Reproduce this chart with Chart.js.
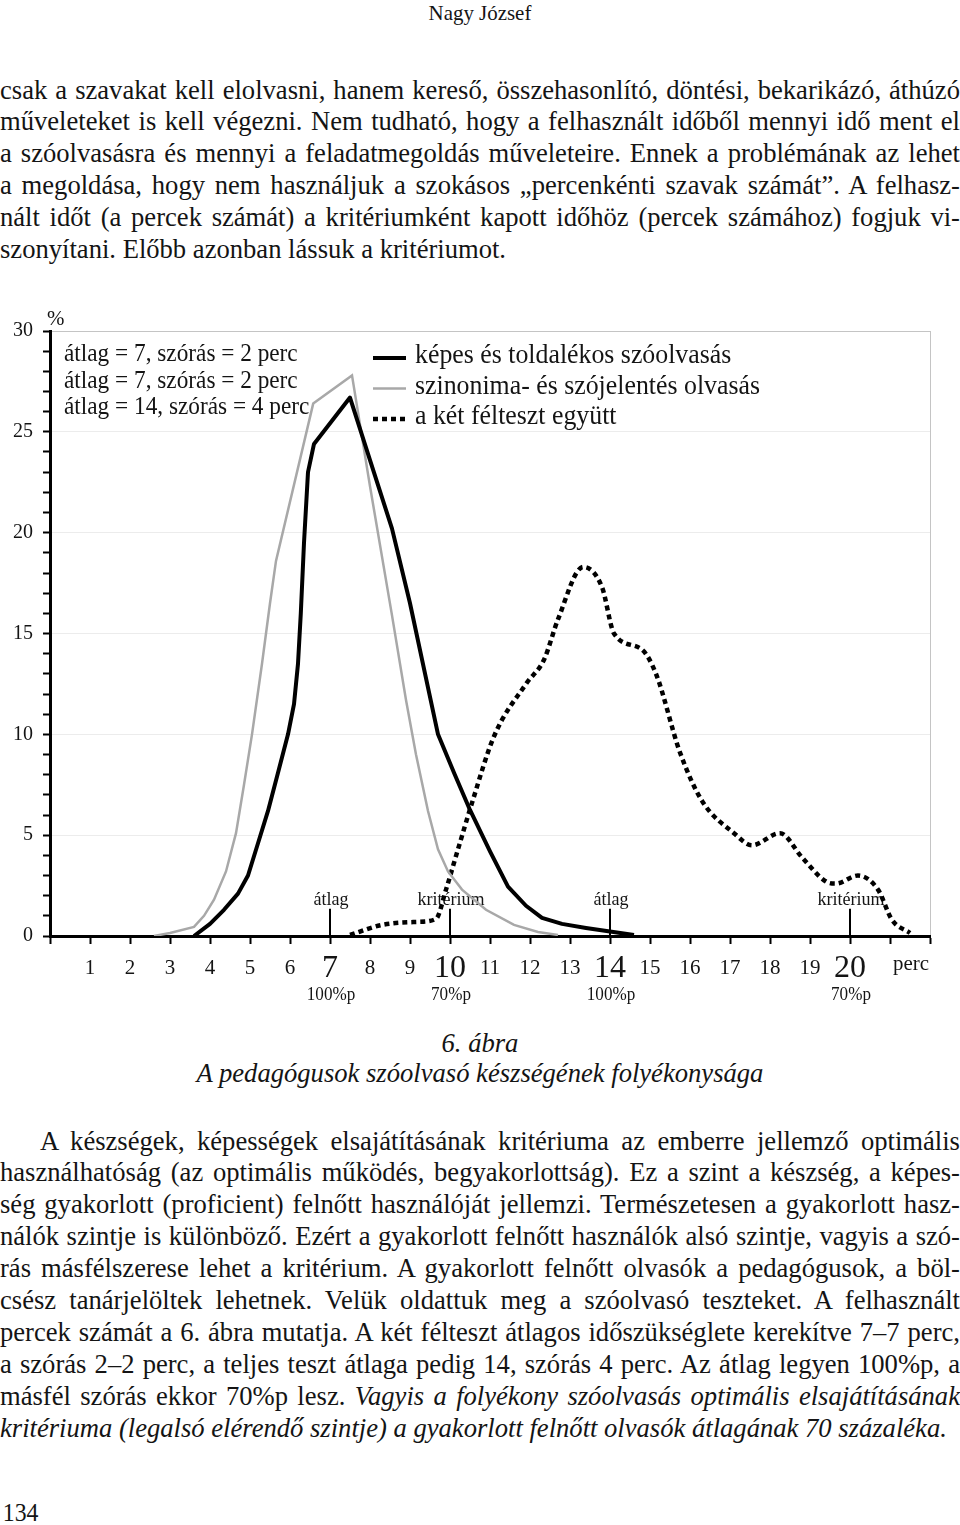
<!DOCTYPE html>
<html>
<head>
<meta charset="utf-8">
<script src="https://cdn.jsdelivr.net/npm/chart.js@4.4.1/dist/chart.umd.min.js"></script>
<style>
html, body { margin: 0; padding: 0; background: #fff; }
body { width: 960px; height: 1525px; position: relative; overflow: hidden;
       font-family: "Liberation Serif", "Times New Roman", serif; color: #141414; }
.blk { position: absolute; left: 0; width: 1010.5px; transform: scaleX(0.95); transform-origin: 0 0;
       font-size: 28px; line-height: 31.9px; }
.j { text-align: justify; text-align-last: justify; height: 31.9px; }
.l { text-align: left; height: 31.9px; }
#chartBox { position: absolute; left: 0; top: 300px; width: 960px; height: 720px; }
</style>
</head>
<body>

<div class="blk" style="top:0; font-size:22px; line-height:26px; text-align:center;">Nagy József</div>

<div class="blk" style="top:73.6px;">
  <div class="j">csak a szavakat kell elolvasni, hanem kereső, összehasonlító, döntési, bekarikázó, áthúzó</div>
  <div class="j">műveleteket is kell végezni. Nem tudható, hogy a felhasznált időből mennyi idő ment el</div>
  <div class="j">a szóolvasásra és mennyi a feladatmegoldás műveleteire. Ennek a problémának az lehet</div>
  <div class="j">a megoldása, hogy nem használjuk a szokásos „percenkénti szavak számát”. A felhasz-</div>
  <div class="j">nált időt (a percek számát) a kritériumként kapott időhöz (percek számához) fogjuk vi-</div>
  <div class="l">szonyítani. Előbb azonban lássuk a kritériumot.</div>
</div>

<div id="chartBox"><canvas id="chart"></canvas></div>

<div class="blk" style="top:1027.5px; line-height:30px; font-style:italic; text-align:center;">
  <div>6. ábra</div>
  <div>A pedagógusok szóolvasó készségének folyékonysága</div>
</div>

<div class="blk" style="top:1124.6px;">
  <div class="j" style="text-indent:42px;">A készségek, képességek elsajátításának kritériuma az emberre jellemző optimális</div>
  <div class="j">használhatóság (az optimális működés, begyakorlottság). Ez a szint a készség, a képes-</div>
  <div class="j">ség gyakorlott (proficient) felnőtt használóját jellemzi. Természetesen a gyakorlott hasz-</div>
  <div class="j">nálók szintje is különböző. Ezért a gyakorlott felnőtt használók alsó szintje, vagyis a szó-</div>
  <div class="j">rás másfélszerese lehet a kritérium. A gyakorlott felnőtt olvasók a pedagógusok, a böl-</div>
  <div class="j">csész tanárjelöltek lehetnek. Velük oldattuk meg a szóolvasó teszteket. A felhasznált</div>
  <div class="j">percek számát a 6. ábra mutatja. A két félteszt átlagos időszükséglete kerekítve 7–7 perc,</div>
  <div class="j">a szórás 2–2 perc, a teljes teszt átlaga pedig 14, szórás 4 perc. Az átlag legyen 100%p, a</div>
  <div class="j">másfél szórás ekkor 70%p lesz. <i>Vagyis a folyékony szóolvasás optimális elsajátításának</i></div>
  <div class="l"><i>kritériuma (legalsó elérendő szintje) a gyakorlott felnőtt olvasók átlagának 70 százaléka.</i></div>
</div>

<div class="blk" style="top:1497.6px; font-size:25px; line-height:30px; padding-left:3px;">134</div>

<script>
const SX = 0.95;
const FAMILY = '"Liberation Serif", "Times New Roman", serif';

// percek (x) and % (y)
const kepesX = [3.6, 4.0, 4.35, 4.7, 4.95, 5.2, 5.45, 5.7, 5.95, 6.1, 6.2, 6.27, 6.35, 6.45, 6.6, 7.5, 8.0, 8.55, 9.0, 9.7, 10.1, 10.5, 11.0, 11.45, 11.9, 12.3, 12.8, 13.4, 14.0, 14.6];
const kepesY = [0, 0.6, 1.3, 2.1, 3.0, 4.6, 6.2, 8.1, 10.0, 11.5, 13.5, 16.0, 19.5, 23.0, 24.4, 26.7, 23.6, 20.2, 16.5, 10.0, 8.1, 6.25, 4.2, 2.45, 1.5, 0.9, 0.6, 0.4, 0.22, 0.05];

const szinX = [2.6, 3.0, 3.6, 3.85, 4.1, 4.4, 4.65, 4.85, 5.05, 5.3, 5.5, 5.65, 6.58, 7.55, 8.0, 8.55, 8.9, 9.15, 9.45, 9.7, 9.95, 10.3, 10.9, 11.6, 12.2, 12.7];
const szinY = [0, 0.15, 0.45, 1.0, 1.8, 3.2, 5.1, 7.5, 10.0, 13.5, 16.5, 18.6, 26.4, 27.8, 22.3, 15.9, 11.7, 9.0, 6.2, 4.3, 3.2, 2.3, 1.3, 0.55, 0.2, 0.05];

const egyuttX = [7.5, 8.3, 9.2, 9.65, 9.9, 10.2, 10.55, 11.1, 11.9, 12.35, 12.7, 13.33, 13.8, 14.1, 14.8, 15.15, 15.75, 16.3, 17.1, 17.55, 18.25, 18.8, 19.4, 19.65, 20.2, 20.7, 21.05, 21.5];
const egyuttY = [0.05, 0.55, 0.7, 0.85, 2.3, 4.3, 6.6, 9.9, 12.5, 13.7, 15.7, 18.3, 17.3, 15.0, 14.2, 13.0, 9.1, 6.7, 5.1, 4.5, 5.1, 3.9, 2.7, 2.6, 3.0, 2.3, 0.8, 0.15];

const seriesNames = ['képes és toldalékos szóolvasás', 'szinonima- és szójelentés olvasás', 'a két félteszt együtt'];
const statLines = ['átlag = 7, szórás = 2 perc', 'átlag = 7, szórás = 2 perc', 'átlag = 14, szórás = 4 perc'];

const markerX = [7, 10, 14, 20];
const markerNames = ['átlag', 'kritérium', 'átlag', 'kritérium'];
const markerPct = ['100%p', '70%p', '100%p', '70%p'];

function xy(xs, ys) {
  return xs.map((x, i) => ({ x: x, y: ys[i] }));
}

function sText(ctx, str, x, y, size, align, italic) {
  ctx.save();
  ctx.font = (italic ? 'italic ' : '') + size + 'px ' + FAMILY;
  ctx.fillStyle = '#141414';
  ctx.textAlign = align || 'left';
  ctx.textBaseline = 'alphabetic';
  ctx.translate(x, y);
  ctx.scale(SX, 1);
  ctx.fillText(str, 0, 0);
  ctx.restore();
}

const notesPlugin = {
  id: 'notes',
  beforeDatasetsDraw(chart) {
    const ctx = chart.ctx, xs = chart.scales.x, ys = chart.scales.y;
    const area = chart.chartArea;
    const y0 = ys.getPixelForValue(0);
    // marker lines and names
    ctx.save();
    ctx.strokeStyle = '#000';
    ctx.lineWidth = 2;
    markerX.forEach((m, i) => {
      const px = Math.round(xs.getPixelForValue(m));
      ctx.beginPath();
      ctx.moveTo(px, y0);
      ctx.lineTo(px, ys.getPixelForValue(1.35));
      ctx.stroke();
      sText(ctx, markerNames[i], px + 1, ys.getPixelForValue(1.55), 19, 'center');
    });
    ctx.restore();
    // stats text top left
    statLines.forEach((s, i) => {
      sText(ctx, s, area.left + 14, area.top + 30 + i * 26.7, 24.5, 'left');
    });
  },
  afterDraw(chart) {
    const ctx = chart.ctx, xs = chart.scales.x, ys = chart.scales.y;
    const area = chart.chartArea;
    const y0 = ys.getPixelForValue(0);
    sText(ctx, '%', area.left - 3, area.top - 6, 22, 'left');
    sText(ctx, 'perc', xs.getPixelForValue(21.5) + 1, y0 + 34, 22, 'center');
    markerX.forEach((m, i) => {
      sText(ctx, markerPct[i], xs.getPixelForValue(m) + 1, y0 + 64, 18, 'center');
    });
    // legend
    const legX = 373, legText = 415;
    chart.data.datasets.forEach((ds, i) => {
      const base = area.top + 32 + i * 30.5;
      ctx.save();
      ctx.strokeStyle = ds.borderColor;
      ctx.lineWidth = ds.borderWidth;
      ctx.setLineDash(ds.borderDash || []);
      ctx.beginPath();
      ctx.moveTo(legX, base - 5);
      ctx.lineTo(legX + 33, base - 5);
      ctx.stroke();
      ctx.restore();
      sText(ctx, ds.label, legText, base, 27.2, 'left');
    });
  }
};

const bigTicks = markerX;

new Chart(document.getElementById('chart'), {
  type: 'line',
  data: {
    datasets: [
      {
        label: seriesNames[0],
        data: xy(kepesX, kepesY),
        borderColor: '#000',
        borderWidth: 4,
        tension: 0,
        pointRadius: 0,
        borderJoinStyle: 'round',
        fill: false
      },
      {
        label: seriesNames[1],
        data: xy(szinX, szinY),
        borderColor: '#a8a8a8',
        borderWidth: 2.5,
        tension: 0,
        pointRadius: 0,
        fill: false
      },
      {
        label: seriesNames[2],
        data: xy(egyuttX, egyuttY),
        borderColor: '#000',
        borderWidth: 4.5,
        borderDash: [5, 4],
        cubicInterpolationMode: 'monotone',
        pointRadius: 0,
        fill: false
      }
    ]
  },
  options: {
    responsive: true,
    maintainAspectRatio: false,
    animation: false,
    layout: { padding: { top: 31, right: 30, left: 0, bottom: 0 } },
    plugins: {
      legend: { display: false },
      tooltip: { enabled: false }
    },
    scales: {
      x: {
        type: 'linear',
        min: 0,
        max: 22,
        afterFit: (scale) => { scale.height = 84; },
        border: { color: '#000', width: 3 },
        grid: {
          color: (c) => (c.tick && c.tick.value === 22 ? '#c4c4c4' : 'rgba(0,0,0,0)'),
          tickColor: '#000',
          tickWidth: 2,
          tickLength: 8
        },
        ticks: {
          stepSize: 1,
          autoSkip: false,
          maxRotation: 0,
          padding: 11.5,
          color: '#141414',
          callback: (v) => (v >= 1 && v <= 20 ? String(v) : ''),
          font: (c) => (c.tick && bigTicks.includes(c.tick.value)
            ? { family: FAMILY, size: 32, lineHeight: 0.79 }
            : { family: FAMILY, size: 21, lineHeight: 1.2 })
        }
      },
      y: {
        min: 0,
        max: 30,
        afterFit: (scale) => { scale.width = 50; },
        border: { color: '#000', width: 3 },
        grid: {
          color: (c) => {
            const v = c.tick ? c.tick.value : -1;
            if (v === 30) return '#c4c4c4';
            if (v > 0 && v % 5 === 0) return '#ececec';
            return 'rgba(0,0,0,0)';
          },
          tickColor: '#000',
          tickWidth: 2,
          tickLength: 7
        },
        ticks: {
          stepSize: 1,
          autoSkip: false,
          padding: 10,
          color: '#141414',
          callback: (v) => (v % 5 === 0 ? String(v) : ''),
          font: { family: FAMILY, size: 20 }
        }
      }
    }
  },
  plugins: [notesPlugin]
});
</script>
</body>
</html>
